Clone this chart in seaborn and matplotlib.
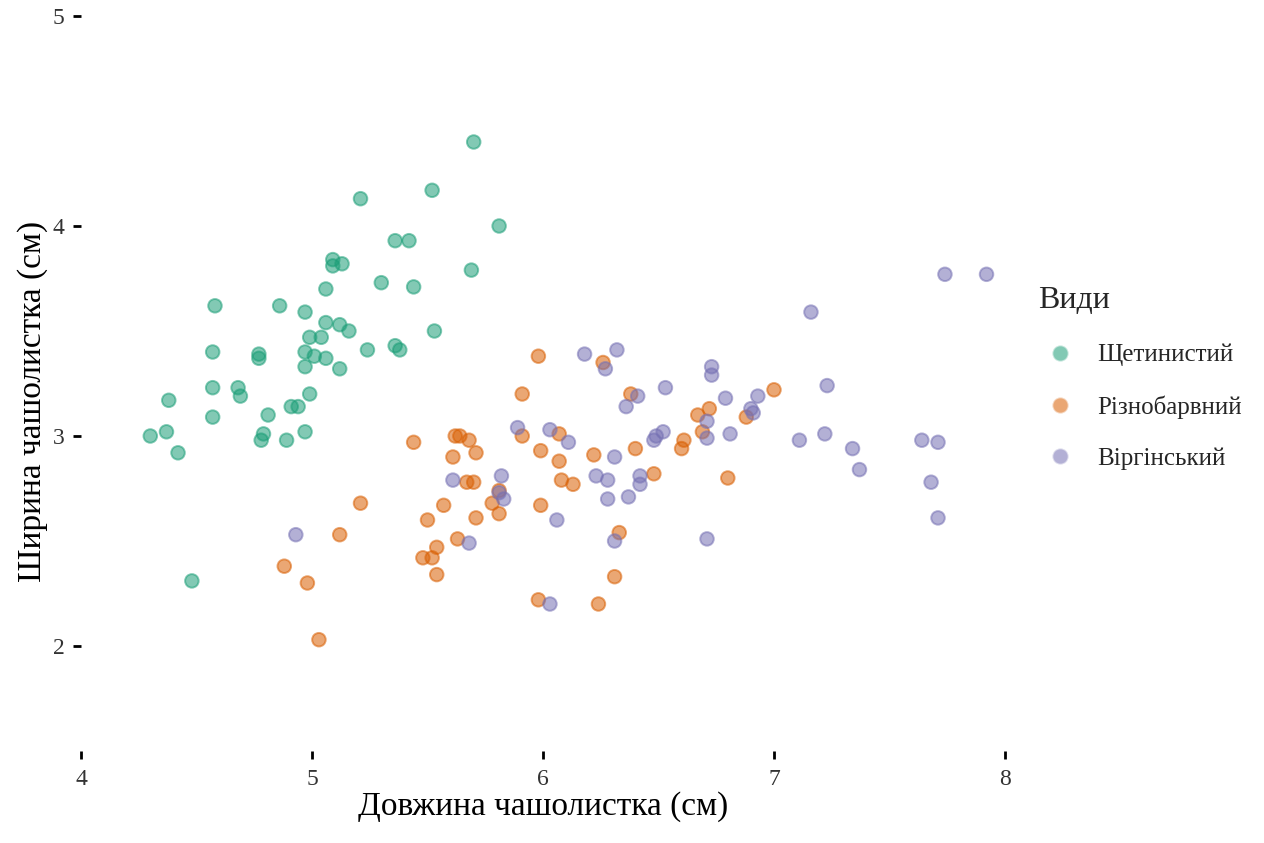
import numpy as np
import pandas as pd
import matplotlib
matplotlib.use("Agg")
import matplotlib.pyplot as plt
import seaborn as sns

# species labels (Ukrainian) and colours
species = ["Щетинистий", "Різнобарвний", "Віргінський"]
palette = ["#1B9E77", "#D95F02", "#7570B3"]

setosa_x = [5.70, 5.52, 5.21, 5.81, 5.36, 5.42, 5.09, 5.09, 5.13, 5.69,
            5.30, 5.06, 5.44, 4.58, 4.86, 4.97, 5.06, 5.12, 5.16, 5.53,
            5.04, 4.99, 5.36, 5.38, 5.24, 4.97, 4.57, 4.77, 4.77, 5.01,
            5.06, 4.97, 5.12, 4.38, 4.57, 4.68, 4.69, 4.99, 4.81, 4.91,
            4.94, 4.57, 4.30, 4.37, 4.42, 4.79, 4.78, 4.89, 4.97, 4.48]
setosa_y = [4.40, 4.17, 4.13, 4.00, 3.93, 3.93, 3.84, 3.81, 3.82, 3.79,
            3.73, 3.70, 3.71, 3.62, 3.62, 3.59, 3.54, 3.53, 3.50, 3.50,
            3.47, 3.47, 3.43, 3.41, 3.41, 3.40, 3.40, 3.39, 3.37, 3.38,
            3.37, 3.33, 3.32, 3.17, 3.23, 3.23, 3.19, 3.20, 3.10, 3.14,
            3.14, 3.09, 3.00, 3.02, 2.92, 3.01, 2.98, 2.98, 3.02, 2.31]

versicolor_x = [5.98, 6.26, 6.38, 6.72, 5.91, 6.67, 6.69, 6.61, 6.60, 5.44,
                5.62, 5.64, 5.68, 5.71, 5.61, 5.91, 6.07, 5.99, 6.07, 6.22,
                6.40, 6.48, 6.08, 6.13, 5.67, 5.70, 5.81, 5.78, 5.81, 5.99,
                5.57, 5.50, 5.71, 5.63, 5.54, 5.48, 5.52, 5.54, 6.33, 6.31,
                5.98, 6.24, 5.21, 5.12, 4.88, 4.98, 5.03, 7.00, 6.88, 6.80]
versicolor_y = [3.38, 3.35, 3.20, 3.13, 3.20, 3.10, 3.02, 2.98, 2.94, 2.97,
                3.00, 3.00, 2.98, 2.92, 2.90, 3.00, 3.01, 2.93, 2.88, 2.91,
                2.94, 2.82, 2.79, 2.77, 2.78, 2.78, 2.74, 2.68, 2.63, 2.67,
                2.67, 2.60, 2.61, 2.51, 2.47, 2.42, 2.42, 2.34, 2.54, 2.33,
                2.22, 2.20, 2.68, 2.53, 2.38, 2.30, 2.03, 3.22, 3.09, 2.80]

virginica_x = [6.18, 6.32, 6.27, 6.73, 6.73, 6.53, 6.41, 6.36, 6.71, 6.71,
               5.89, 6.03, 6.11, 6.31, 6.52, 6.49, 6.48, 6.23, 6.28, 6.42,
               6.42, 6.37, 6.28, 5.61, 5.82, 5.81, 5.83, 6.06, 5.68, 6.31,
               6.71, 6.03, 4.93, 7.74, 7.92, 7.16, 7.23, 6.79, 6.93, 6.90,
               6.91, 6.81, 7.11, 7.22, 7.34, 7.37, 7.64, 7.71, 7.68, 7.71]
virginica_y = [3.39, 3.41, 3.32, 3.33, 3.29, 3.23, 3.19, 3.14, 3.07, 2.99,
               3.04, 3.03, 2.97, 2.90, 3.02, 3.00, 2.98, 2.81, 2.79, 2.81,
               2.77, 2.71, 2.70, 2.79, 2.81, 2.73, 2.70, 2.60, 2.49, 2.50,
               2.51, 2.20, 2.53, 3.77, 3.77, 3.59, 3.24, 3.18, 3.19, 3.13,
               3.11, 3.01, 2.98, 3.01, 2.94, 2.84, 2.98, 2.97, 2.78, 2.61]

x_ticks = [4, 5, 6, 7, 8]
y_ticks = [2, 3, 4, 5]

df = pd.DataFrame({
    "x": setosa_x + versicolor_x + virginica_x,
    "y": setosa_y + versicolor_y + virginica_y,
    "sp": [species[0]] * len(setosa_x) + [species[1]] * len(versicolor_x)
          + [species[2]] * len(virginica_x),
})

sns.set_theme(style="white")
plt.rcParams["font.family"] = ["Liberation Serif", "DejaVu Serif"]

fig = plt.figure(figsize=(12.64, 8.43), dpi=100)
ax = fig.add_axes([81 / 1264, 1 - 751 / 843, 924 / 1264, 735 / 843])

sns.scatterplot(data=df, x="x", y="y", hue="sp", hue_order=species,
                palette=palette, s=95, alpha=0.55, linewidth=1.4,
                ax=ax, legend=True)
for coll in ax.collections:
    coll.set_edgecolor(coll.get_facecolor())

ax.set_xlim(4, 8)
ax.set_ylim(1.5, 5)
ax.set_xticks(x_ticks)
ax.set_yticks(y_ticks)
for s in ax.spines.values():
    s.set_visible(False)
ax.tick_params(axis="both", which="major", direction="out", length=6,
               width=2, color="black", labelsize=17, labelcolor="#333333",
               bottom=True, left=True)
ax.tick_params(axis="x", pad=7)
ax.tick_params(axis="y", pad=6)

ax.set_xlabel("Довжина чашолистка (см)", fontsize=24, color="black")
ax.set_ylabel("Ширина чашолистка (см)", fontsize=24, color="black")
ax.xaxis.set_label_coords(0.5, -0.055)
ax.yaxis.set_label_coords(-0.036, 0.476)

handles, labels = ax.get_legend_handles_labels()
leg = ax.legend(handles, labels, title="Види", loc="center left",
                bbox_to_anchor=(1016 / 1264, 1 - 378 / 843),
                bbox_transform=fig.transFigure, frameon=False,
                fontsize=18, title_fontsize=23, handlelength=1.75,
                handletextpad=0.6, labelspacing=1.15, alignment="left",
                markerscale=1.2)

fig.savefig("out.png", dpi=100)
